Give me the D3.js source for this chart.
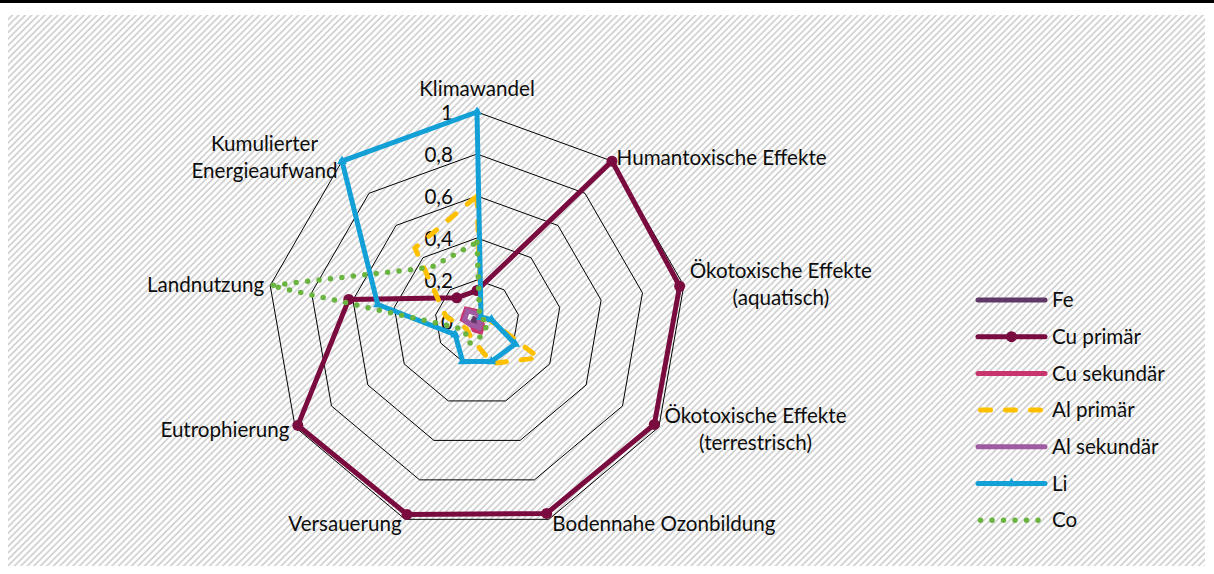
<!DOCTYPE html>
<html>
<head>
<meta charset="utf-8">
<script src="https://cdn.jsdelivr.net/npm/d3@7"></script>
<style>
  body { margin: 0; background: #fff; }
  svg text { font-family: Lato, "Liberation Sans", sans-serif; fill: #0d0d0d; }
</style>
</head>
<body>
<svg id="chart"></svg>
<script>
// axes (line breaks as in the original)
const categories = [
  "Klimawandel",
  "Humantoxische Effekte",
  "Ökotoxische Effekte\n(aquatisch)",
  "Ökotoxische Effekte\n(terrestrisch)",
  "Bodennahe Ozonbildung",
  "Versauerung",
  "Eutrophierung",
  "Landnutzung",
  "Kumulierter\nEnergieaufwand"
];
const ticks = [0, 0.2, 0.4, 0.6, 0.8, 1];
const tickLabels = ["0", "0,2", "0,4", "0,6", "0,8", "1"];

const seriesNames = ["Fe", "Cu primär", "Cu sekundär", "Al primär", "Al sekundär", "Li", "Co"];
const fe         = [0.01, 0.01, 0.01, 0.01, 0.01, 0.01, 0.01, 0.02, 0.02];
const cuPrimaer  = [0.15, 1.0, 0.98, 0.975, 0.97, 0.975, 0.985, 0.62, 0.15];
const cuSekundaer= [0.05, 0.03, 0.02, 0.03, 0.05, 0.04, 0.03, 0.07, 0.08];
const alPrimaer  = [0.6, 0.03, 0.06, 0.34, 0.21, 0.08, 0.06, 0.15, 0.46];
const alSekundaer= [0.04, 0.02, 0.01, 0.02, 0.03, 0.02, 0.03, 0.06, 0.07];
const li         = [1.0, 0.03, 0.07, 0.21, 0.2, 0.2, 0.12, 0.48, 1.0];
const co         = [0.38, 0.02, 0.05, 0.05, 0.07, 0.11, 0.07, 1.0, 0.34];
const seriesValues = [fe, cuPrimaer, cuSekundaer, alPrimaer, alSekundaer, li, co];

// look of each series
const styles = {
  "Fe":          { color: "#603868", dash: null },
  "Cu primär":   { color: "#7a0b3f", dash: null, marker: "circle" },
  "Cu sekundär": { color: "#c8346e", dash: null },
  "Al primär":   { color: "#ffc000", dash: "10 15", cap: "round" },
  "Al sekundär": { color: "#a05aa2", dash: null },
  "Li":          { color: "#12a0d7", dash: null, marker: "triangle" },
  "Co":          { color: "#6ab440", dash: "0 11.5", cap: "round" }
};

const W = 1214, H = 574;
const cx = 477, cy = 322, R = 210;
const fontSize = 20.6;

const svg = d3.select("#chart").attr("width", W).attr("height", H);

// hatched background
const defs = svg.append("defs");
defs.append("pattern")
  .attr("id", "hatch")
  .attr("width", 4.6).attr("height", 4.6)
  .attr("patternUnits", "userSpaceOnUse")
  .attr("patternTransform", "rotate(45)")
  .append("line")
  .attr("x1", 1).attr("y1", 0).attr("x2", 1).attr("y2", 4.6)
  .attr("stroke", "#cacaca").attr("stroke-width", 1.5);

svg.append("rect").attr("x", 0).attr("y", 0).attr("width", W).attr("height", 3).attr("fill", "#000");
svg.append("rect").attr("x", 8).attr("y", 15).attr("width", 1197).attr("height", 551).attr("fill", "url(#hatch)");

const r = d3.scaleLinear().domain([0, 1]).range([0, R]);
const angle = d3.scaleLinear().domain([0, categories.length]).range([0, 2 * Math.PI]);

const g = svg.append("g").attr("transform", `translate(${cx},${cy})`);

const radial = d3.lineRadial()
  .angle((d, i) => angle(i))
  .radius(d => r(d))
  .curve(d3.curveLinearClosed);

// grid rings
g.selectAll(".ring")
  .data(ticks.filter(t => t > 0))
  .join("path")
  .attr("class", "ring")
  .attr("d", t => radial(categories.map(() => t)))
  .attr("fill", "none")
  .attr("stroke", "#000")
  .attr("stroke-width", 1);

// tick labels
g.selectAll(".tick")
  .data(ticks)
  .join("text")
  .attr("class", "tick")
  .attr("x", -24)
  .attr("y", t => -r(t) + 1)
  .attr("dy", "0.35em")
  .attr("text-anchor", "end")
  .style("font-size", fontSize + "px")
  .text((t, i) => tickLabels[i]);

// series
const point = (v, i) => [r(v) * Math.sin(angle(i)), -r(v) * Math.cos(angle(i))];

seriesNames.forEach((name, s) => {
  const st = styles[name];
  const vals = seriesValues[s];
  g.append("path")
    .attr("d", radial(vals))
    .attr("fill", "none")
    .attr("stroke", st.color)
    .attr("stroke-width", name === "Co" ? 5.5 : 5)
    .attr("stroke-linejoin", st.cap ? "round" : "miter")
    .attr("stroke-linecap", st.cap || "butt")
    .attr("stroke-dasharray", st.dash);
  if (st.marker === "circle") {
    g.selectAll(null).data(vals).join("circle")
      .attr("cx", (d, i) => point(d, i)[0])
      .attr("cy", (d, i) => point(d, i)[1])
      .attr("r", 5.5)
      .attr("fill", st.color);
  } else if (st.marker === "triangle") {
    g.selectAll(null).data(vals).join("path")
      .attr("transform", (d, i) => `translate(${point(d, i)})`)
      .attr("d", d3.symbol(d3.symbolTriangle, 40))
      .attr("fill", st.color);
  }
});

// axis labels
categories.forEach((label, i) => {
  const a = angle(i);
  const [vx, vy] = point(1, i);
  const lines = label.split("\n");
  const lg = g.append("g");
  const t = lg.append("text")
    .attr("text-anchor", "middle")
    .style("font-size", fontSize + "px");
  t.selectAll("tspan").data(lines).join("tspan")
    .attr("x", 0)
    .attr("y", (d, k) => k * 27)
    .attr("dy", "0.35em")
    .text(d => d);
  const bb = t.node().getBBox();
  const blockH = (lines.length - 1) * 27;
  let tx, ty;
  if (i === 0) {
    tx = vx;
    ty = vy - 23;
  } else {
    const off = 2 + 4 * Math.abs(Math.sin(a));
    tx = Math.sin(a) > 0 ? vx + off + bb.width / 2 : vx - off - bb.width / 2;
    ty = vy - 5 * Math.cos(a) - blockH / 2;
  }
  lg.attr("transform", `translate(${tx},${ty})`);
});

// legend
const legend = svg.append("g").attr("transform", "translate(978,300)");
const rows = legend.selectAll("g").data(seriesNames).join("g")
  .attr("transform", (d, i) => `translate(0,${i * 36.7})`);
rows.append("line")
  .attr("x1", d => styles[d].cap ? 2.5 : 0).attr("x2", 67).attr("y1", 0).attr("y2", 0)
  .attr("stroke", d => styles[d].color)
  .attr("stroke-width", d => d === "Co" ? 5.5 : 5)
  .attr("stroke-linecap", d => styles[d].cap || "round")
  .attr("stroke-dasharray", d => styles[d].dash);
rows.filter(d => styles[d].marker === "circle").append("circle")
  .attr("cx", 33.5).attr("cy", 0).attr("r", 5.5)
  .attr("fill", d => styles[d].color);
rows.filter(d => styles[d].marker === "triangle").append("path")
  .attr("transform", "translate(33.5,0)")
  .attr("d", d3.symbol(d3.symbolTriangle, 40))
  .attr("fill", d => styles[d].color);
rows.append("text")
  .attr("x", 74).attr("y", 0).attr("dy", "0.35em")
  .style("font-size", fontSize + "px")
  .text(d => d);
</script>
</body>
</html>
